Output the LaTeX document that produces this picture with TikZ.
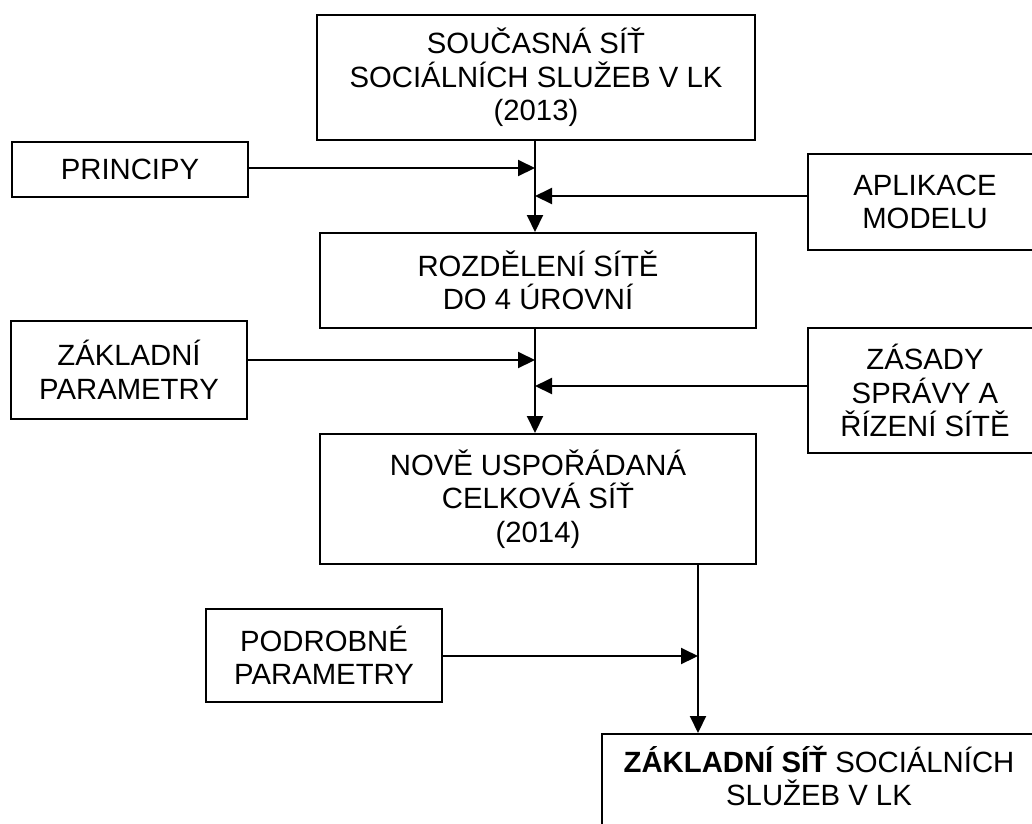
\documentclass[tikz,border=0pt]{standalone}
\usepackage{fontspec}
\setmainfont{Liberation Sans}
\usetikzlibrary{arrows.meta}
\begin{document}
\begin{tikzpicture}[x=1pt,y=1pt,
  txt/.style={align=center, font=\fontsize{29.3}{33.5}\selectfont},
  box/.style={draw, line width=2pt, rectangle, inner sep=0pt, txt},
  conn/.style={line width=2pt, -{Triangle[length=17pt,width=16pt]}}]
\clip (0,0) rectangle (1032,-823);
\fill[white] (0,0) rectangle (1032,-823);
\node[box, minimum width=438pt, minimum height=125pt] (A) at (536,-77.5) {SOUČASNÁ SÍŤ\\SOCIÁLNÍCH SLUŽEB V LK\\(2013)};
\node[box, minimum width=236pt, minimum height=55pt] (P) at (130,-169.5) {PRINCIPY};
\node[box, minimum width=234pt, minimum height=96pt] (M) at (925,-202) {APLIKACE\\MODELU};
\node[box, minimum width=436pt, minimum height=95pt] (R) at (538,-280.5) {ROZDĚLENÍ SÍTĚ\\DO 4 ÚROVNÍ};
\node[box, minimum width=236pt, minimum height=98pt] (Z) at (129,-370) {ZÁKLADNÍ\\PARAMETRY};
\node[box, minimum width=234pt, minimum height=125pt] (S) at (925,-390.5) {ZÁSADY\\SPRÁVY A\\ŘÍZENÍ SÍTĚ};
\node[box, minimum width=436pt, minimum height=130pt] (N) at (538,-499) {NOVĚ USPOŘÁDANÁ\\CELKOVÁ SÍŤ\\(2014)};
\node[box, minimum width=236pt, minimum height=93pt] (D) at (324,-655.5) {PODROBNÉ\\PARAMETRY};
\node[box, minimum width=434pt, minimum height=96pt,
  label={[txt, yshift=6pt]center:\textbf{ZÁKLADNÍ SÍŤ} SOCIÁLNÍCH\\SLUŽEB V LK}] (B) at (819,-782) {};
\coordinate (c1) at (535,0);
\coordinate (c2) at (698,0);
% first stage
\draw[conn] (A.south -| c1) -- (R.north -| c1);
\draw[conn] ([yshift=1.5pt]P.east) -- ([yshift=1.5pt]P.east -| c1);
\draw[conn] ([yshift=6pt]M.west) -- ([yshift=6pt]M.west -| c1);
% second stage
\draw[conn] (R.south -| c1) -- (N.north -| c1);
\draw[conn] ([yshift=10pt]Z.east) -- ([yshift=10pt]Z.east -| c1);
\draw[conn] ([yshift=4.5pt]S.west) -- ([yshift=4.5pt]S.west -| c1);
% third stage
\draw[conn] (N.south -| c2) -- (B.north -| c2);
\draw[conn] ([yshift=-0.5pt]D.east) -- ([yshift=-0.5pt]D.east -| c2);
\end{tikzpicture}
\end{document}
